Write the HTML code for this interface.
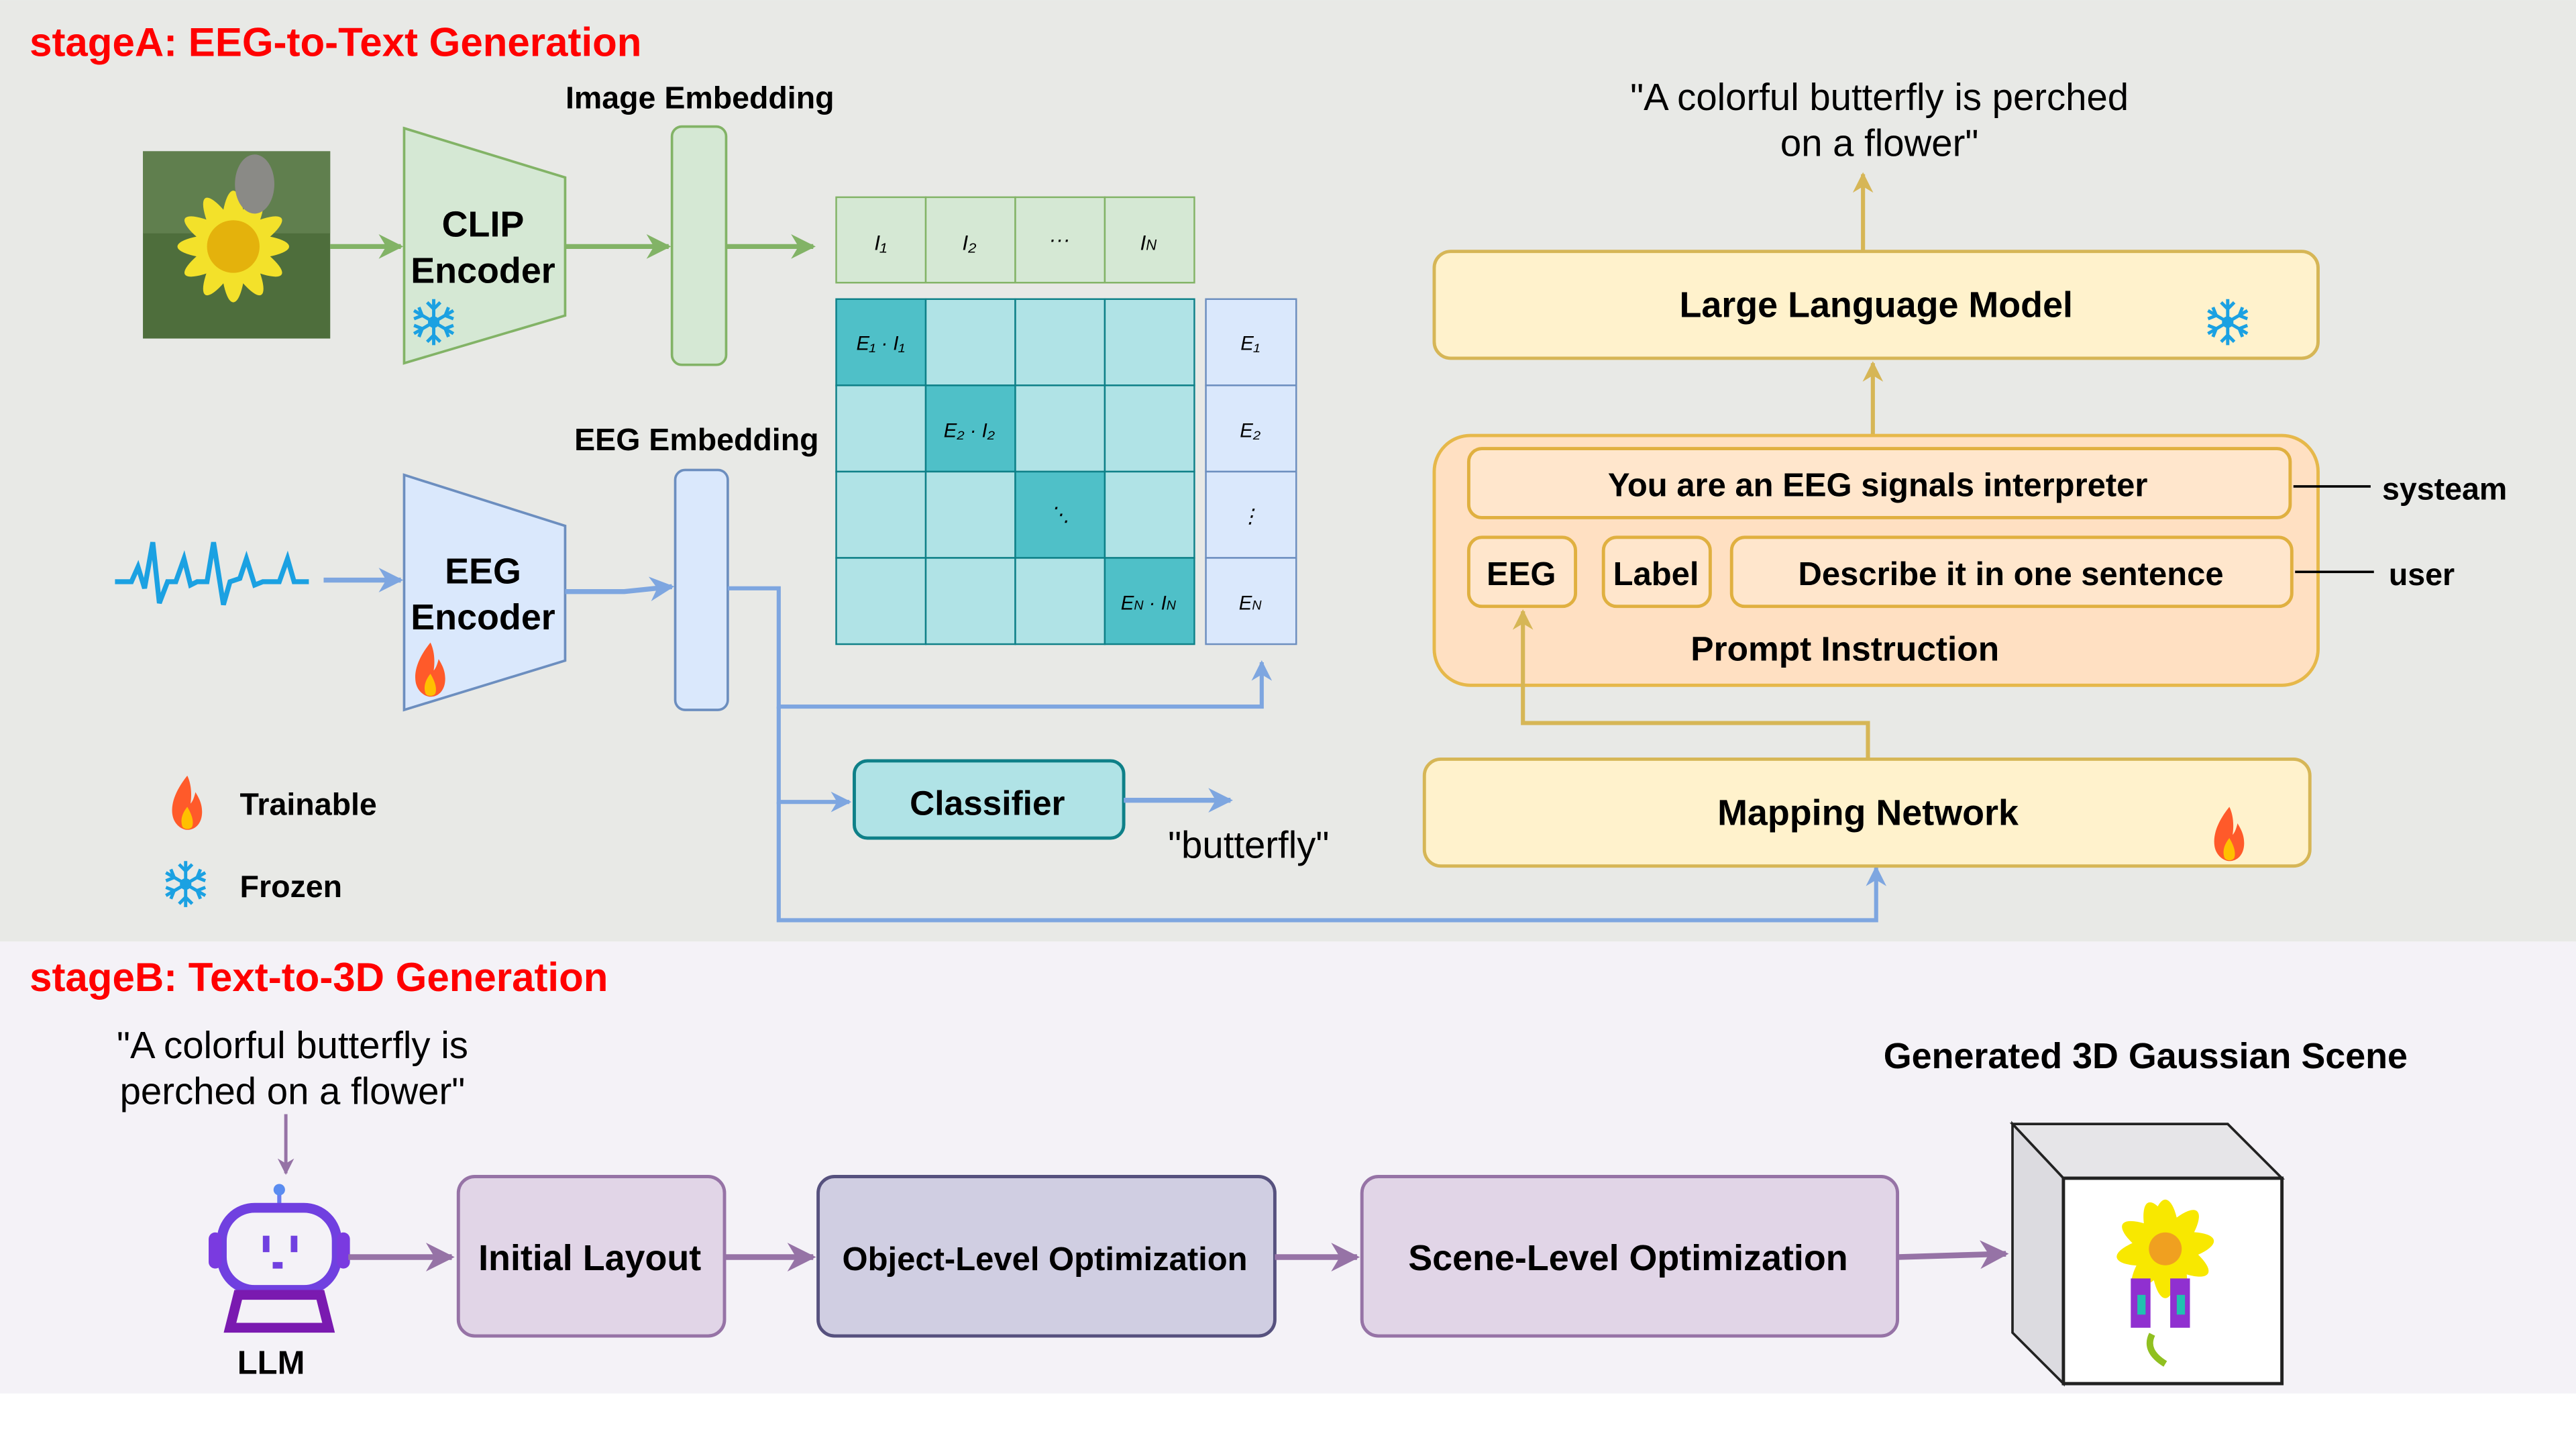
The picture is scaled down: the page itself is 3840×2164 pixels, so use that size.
<!DOCTYPE html>
<html><head><meta charset="utf-8"><style>
html,body{margin:0;padding:0;background:#fff;}
svg{display:block;}
text{font-family:"Liberation Sans",sans-serif;}
.b{font-weight:bold;}
</style></head><body>
<svg width="3840" height="2164" viewBox="0 0 1568 883.6" xmlns="http://www.w3.org/2000/svg">
<defs>
<marker id="ag" viewBox="0 0 10 10" refX="9" refY="5" markerWidth="5" markerHeight="5" orient="auto"><path d="M0,0 L10,5 L0,10 L3,5 z" fill="#82b366"/></marker>
<marker id="ab" viewBox="0 0 10 10" refX="9" refY="5" markerWidth="5" markerHeight="5" orient="auto"><path d="M0,0 L10,5 L0,10 L3,5 z" fill="#7ea6e0"/></marker>
<marker id="ay" viewBox="0 0 10 10" refX="9" refY="5" markerWidth="5" markerHeight="5" orient="auto"><path d="M0,0 L10,5 L0,10 L3,5 z" fill="#d6b656"/></marker>
<marker id="ap" viewBox="0 0 10 10" refX="9" refY="5" markerWidth="5" markerHeight="5" orient="auto"><path d="M0,0 L10,5 L0,10 L3,5 z" fill="#9673a6"/></marker>
<g id="flame"><path d="M0,-16 C-8,-6 -10,2 -9,8 C-8,14 -3,17 0,17 C5,17 9,13 9,6 C9,0 6,-4 5,-6 C4,-2 3,0 2,1 C3,-6 2,-12 0,-16 z" fill="#ff5a2a"/><path d="M0,3 C-4,8 -4,12 -3,15 C-2,17 2,17 3,15 C4,12 3,8 0,3 z" fill="#ffc000"/></g>
<g id="snow" stroke="#1ba1e2" stroke-width="2" fill="none"><path d="M0,-14 V14 M-12,-7 L12,7 M-12,7 L12,-7"/><path d="M-4,-12 L0,-8 L4,-12 M-4,12 L0,8 L4,12 M-12,-2 L-7,-4 L-9,-9 M12,2 L7,4 L9,9 M-12,2 L-7,4 L-9,9 M12,-2 L7,-4 L9,-9"/><circle r="2.5"/></g>
</defs>
<rect x="0" y="0" width="1568" height="573" fill="#e8e9e6"/>
<rect x="0" y="573" width="1568" height="275" fill="#f4f2f7"/>
<text x="18" y="34" class="b" font-size="24.5" fill="#ff0000">stageA: EEG-to-Text Generation</text>

<rect x="87" y="92" width="114" height="114" fill="#4e6e3c"/>
<rect x="87" y="92" width="114" height="50" fill="#6d8a5a" opacity="0.6"/>
<g transform="translate(142,150)" fill="#f3e12a">
<ellipse rx="8" ry="34" transform="rotate(0)"/><ellipse rx="8" ry="34" transform="rotate(30)"/><ellipse rx="8" ry="34" transform="rotate(60)"/><ellipse rx="8" ry="34" transform="rotate(90)"/><ellipse rx="8" ry="34" transform="rotate(120)"/><ellipse rx="8" ry="34" transform="rotate(150)"/>
<circle r="16" fill="#e4b20c"/></g>
<ellipse cx="155" cy="112" rx="12" ry="18" fill="#8a8a86"/>
<line x1="201" y1="150" x2="244" y2="150" stroke="#82b366" stroke-width="3" marker-end="url(#ag)"/>
<polygon points="246,78 344,108 344,192 246,221" fill="#d5e8d4" stroke="#82b366" stroke-width="1.5"/>
<text x="294" y="144" class="b" font-size="22" text-anchor="middle">CLIP</text>
<text x="294" y="172" class="b" font-size="22" text-anchor="middle">Encoder</text>
<use href="#snow" x="264" y="196"/>
<line x1="344" y1="150" x2="407" y2="150" stroke="#82b366" stroke-width="3" marker-end="url(#ag)"/>
<rect x="409" y="77" width="33" height="145" rx="6" fill="#d5e8d4" stroke="#82b366" stroke-width="1.5"/>
<text x="426" y="66" class="b" font-size="19" text-anchor="middle">Image Embedding</text>
<line x1="442" y1="150" x2="495" y2="150" stroke="#82b366" stroke-width="3" marker-end="url(#ag)"/>
<g fill="#d5e8d4" stroke="#82b366" stroke-width="1">
<rect x="509" y="120" width="54.5" height="52"/><rect x="563.5" y="120" width="54.5" height="52"/><rect x="618" y="120" width="54.5" height="52"/><rect x="672.5" y="120" width="54.5" height="52"/></g>
<g font-family="Liberation Serif" font-style="italic" font-size="13" text-anchor="middle">
<text x="536" y="152">I₁</text><text x="590" y="152">I₂</text><text x="645" y="150">···</text><text x="699" y="152">I<tspan font-size="9">N</tspan></text></g>
<g stroke="#0e8088" stroke-width="1" fill="#b0e3e6">
<rect x="509" y="182" width="54.5" height="52.5" fill="#4fc0c8"/><rect x="563.5" y="182" width="54.5" height="52.5"/><rect x="618" y="182" width="54.5" height="52.5"/><rect x="672.5" y="182" width="54.5" height="52.5"/>
<rect x="509" y="234.5" width="54.5" height="52.5"/><rect x="563.5" y="234.5" width="54.5" height="52.5" fill="#4fc0c8"/><rect x="618" y="234.5" width="54.5" height="52.5"/><rect x="672.5" y="234.5" width="54.5" height="52.5"/>
<rect x="509" y="287" width="54.5" height="52.5"/><rect x="563.5" y="287" width="54.5" height="52.5"/><rect x="618" y="287" width="54.5" height="52.5" fill="#4fc0c8"/><rect x="672.5" y="287" width="54.5" height="52.5"/>
<rect x="509" y="339.5" width="54.5" height="52.5"/><rect x="563.5" y="339.5" width="54.5" height="52.5"/><rect x="618" y="339.5" width="54.5" height="52.5"/><rect x="672.5" y="339.5" width="54.5" height="52.5" fill="#4fc0c8"/></g>
<g font-family="Liberation Serif" font-style="italic" font-size="12" text-anchor="middle">
<text x="536" y="213">E₁ · I₁</text><text x="590" y="266">E₂ · I₂</text><text x="645" y="317">⋱</text><text x="699" y="371">E<tspan font-size="8">N</tspan> · I<tspan font-size="8">N</tspan></text></g>
<g fill="#dae8fc" stroke="#6c8ebf" stroke-width="1">
<rect x="734" y="182" width="55" height="52.5"/><rect x="734" y="234.5" width="55" height="52.5"/><rect x="734" y="287" width="55" height="52.5"/><rect x="734" y="339.5" width="55" height="52.5"/></g>
<g font-family="Liberation Serif" font-style="italic" font-size="12" text-anchor="middle">
<text x="761" y="213">E₁</text><text x="761" y="266">E₂</text><text x="761" y="318">⋮</text><text x="761" y="371">E<tspan font-size="8">N</tspan></text></g>
<polyline points="70,354 80,354 84,345 88,358 93,330 97,367 102,354 107,354 112,340 116,356 120,354 126,354 130,330 136,368 140,354 146,352 150,340 155,356 160,354 170,354 175,340 179,354 188,354" fill="none" stroke="#1ba1e2" stroke-width="3"/>
<line x1="197" y1="353" x2="244" y2="353" stroke="#7ea6e0" stroke-width="3" marker-end="url(#ab)"/>
<polygon points="246,289 344,320 344,402 246,432" fill="#dae8fc" stroke="#6c8ebf" stroke-width="1.5"/>
<text x="294" y="355" class="b" font-size="22" text-anchor="middle">EEG</text>
<text x="294" y="383" class="b" font-size="22" text-anchor="middle">Encoder</text>
<use href="#flame" x="262" y="407"/>
<path d="M344,360 L380,360 L409,357" fill="none" stroke="#7ea6e0" stroke-width="3" marker-end="url(#ab)"/>
<rect x="411" y="286" width="32" height="146" rx="6" fill="#dae8fc" stroke="#6c8ebf" stroke-width="1.5"/>
<text x="424" y="274" class="b" font-size="19" text-anchor="middle">EEG Embedding</text>
<path d="M443,358 L474,358 L474,430 L768,430 L768,403" fill="none" stroke="#7ea6e0" stroke-width="2.5" marker-end="url(#ab)"/>
<path d="M474,430 L474,488 L517,488" fill="none" stroke="#7ea6e0" stroke-width="2.5" marker-end="url(#ab)"/>
<path d="M474,488 L474,560 L1142,560 L1142,528" fill="none" stroke="#7ea6e0" stroke-width="2.5" marker-end="url(#ab)"/>
<rect x="520" y="463" width="164" height="47" rx="8" fill="#b0e3e6" stroke="#0e8088" stroke-width="2"/>
<text x="601" y="496" class="b" font-size="21" text-anchor="middle">Classifier</text>
<line x1="684" y1="487" x2="749" y2="487" stroke="#7ea6e0" stroke-width="3" marker-end="url(#ab)"/>
<text x="760" y="522" font-size="23" text-anchor="middle">"butterfly"</text>
<use href="#flame" x="114" y="488"/>
<text x="146" y="496" class="b" font-size="19">Trainable</text>
<use href="#snow" x="113" y="538"/>
<text x="146" y="546" class="b" font-size="19">Frozen</text>
<text x="1144" y="67" font-size="23" text-anchor="middle">"A colorful butterfly is perched</text>
<text x="1144" y="95" font-size="23" text-anchor="middle">on a flower"</text>
<line x1="1134" y1="153" x2="1134" y2="106" stroke="#d6b656" stroke-width="2.5" marker-end="url(#ay)"/>
<rect x="873" y="153" width="538" height="65" rx="10" fill="#fff2cc" stroke="#d6b656" stroke-width="2"/>
<text x="1142" y="193" class="b" font-size="22" text-anchor="middle">Large Language Model</text>
<use href="#snow" x="1356" y="196"/>
<line x1="1140" y1="265" x2="1140" y2="221" stroke="#d6b656" stroke-width="2.5" marker-end="url(#ay)"/>
<rect x="873" y="265" width="538" height="152" rx="22" fill="#ffe0c2" stroke="#e6b84a" stroke-width="2"/>
<rect x="894" y="273" width="500" height="42" rx="8" fill="#ffe6cc" stroke="#e0b040" stroke-width="2"/>
<text x="1143" y="302" class="b" font-size="20" text-anchor="middle">You are an EEG signals interpreter</text>
<rect x="894" y="327" width="65" height="42" rx="8" fill="#ffe6cc" stroke="#e0b040" stroke-width="2"/>
<text x="926" y="356" class="b" font-size="20" text-anchor="middle">EEG</text>
<rect x="976" y="327" width="65" height="42" rx="8" fill="#ffe6cc" stroke="#e0b040" stroke-width="2"/>
<text x="1008" y="356" class="b" font-size="20" text-anchor="middle">Label</text>
<rect x="1054" y="327" width="341" height="42" rx="8" fill="#ffe6cc" stroke="#e0b040" stroke-width="2"/>
<text x="1224" y="356" class="b" font-size="20" text-anchor="middle">Describe it in one sentence</text>
<text x="1123" y="402" class="b" font-size="21" text-anchor="middle">Prompt Instruction</text>
<line x1="1396" y1="296" x2="1443" y2="296" stroke="#000" stroke-width="1.5"/>
<text x="1450" y="304" class="b" font-size="19">systeam</text>
<line x1="1397" y1="348" x2="1445" y2="348" stroke="#000" stroke-width="1.5"/>
<text x="1454" y="356" class="b" font-size="19">user</text>
<rect x="867" y="462" width="539" height="65" rx="10" fill="#fff2cc" stroke="#d6b656" stroke-width="2"/>
<text x="1137" y="502" class="b" font-size="22" text-anchor="middle">Mapping Network</text>
<use href="#flame" x="1357" y="507"/>
<path d="M1137,462 L1137,440 L927,440 L927,372" fill="none" stroke="#d6b656" stroke-width="2.5" marker-end="url(#ay)"/>

<text x="18" y="603" class="b" font-size="24.5" fill="#ff0000">stageB: Text-to-3D Generation</text>
<text x="178" y="644" font-size="23" text-anchor="middle">"A colorful butterfly is</text>
<text x="178" y="672" font-size="23" text-anchor="middle">perched on a flower"</text>
<line x1="174" y1="678" x2="174" y2="714" stroke="#9673a6" stroke-width="2" marker-end="url(#ap)"/>
<g>
<line x1="170" y1="722" x2="170" y2="735" stroke="#6a7cf0" stroke-width="2.5"/><circle cx="170" cy="724" r="3.5" fill="#5a8cf0"/>
<rect x="135" y="735" width="70" height="50" rx="20" fill="none" stroke="#7040e0" stroke-width="6"/>
<rect x="127" y="750" width="8" height="22" rx="4" fill="#7a3ae0"/><rect x="205" y="750" width="8" height="22" rx="4" fill="#7a3ae0"/>
<rect x="160" y="752" width="4" height="10" fill="#7040e0"/><rect x="177" y="752" width="4" height="10" fill="#7040e0"/><rect x="166" y="768" width="6" height="4" fill="#7040e0"/>
<path d="M145,788 L195,788 L200,808 L140,808 z" fill="none" stroke="#7a1ab0" stroke-width="6"/>
</g>
<text x="165" y="836" class="b" font-size="20" text-anchor="middle">LLM</text>
<line x1="212" y1="765" x2="275" y2="765" stroke="#9673a6" stroke-width="3.5" marker-end="url(#ap)"/>
<rect x="279" y="716" width="162" height="97" rx="10" fill="#e1d5e7" stroke="#9673a6" stroke-width="2"/>
<text x="359" y="773" class="b" font-size="22" text-anchor="middle">Initial  Layout</text>
<line x1="441" y1="765" x2="495" y2="765" stroke="#9673a6" stroke-width="3.5" marker-end="url(#ap)"/>
<rect x="498" y="716" width="278" height="97" rx="10" fill="#d0cee2" stroke="#56517e" stroke-width="2"/>
<text x="636" y="773" class="b" font-size="20" text-anchor="middle">Object-Level Optimization</text>
<line x1="776" y1="765" x2="826" y2="765" stroke="#9673a6" stroke-width="3.5" marker-end="url(#ap)"/>
<rect x="829" y="716" width="326" height="97" rx="10" fill="#e1d5e7" stroke="#9673a6" stroke-width="2"/>
<text x="991" y="773" class="b" font-size="22" text-anchor="middle">Scene-Level Optimization</text>
<path d="M1155,765 L1221,763" stroke="#9673a6" stroke-width="3.5" marker-end="url(#ap)"/>
<text x="1306" y="650" class="b" font-size="22" text-anchor="middle">Generated 3D Gaussian Scene</text>
<polygon points="1225,684 1356,684 1389,717 1256,717" fill="#e6e5e8" stroke="#222" stroke-width="1.5"/>
<polygon points="1225,684 1256,717 1256,842 1225,811" fill="#dcdbe0" stroke="#222" stroke-width="1.5"/>
<rect x="1256" y="717" width="133" height="125" fill="#fff" stroke="#222" stroke-width="2"/>
<g transform="translate(1318,760)" fill="#f8e800">
<ellipse rx="9" ry="30"/><ellipse rx="9" ry="30" transform="rotate(40)"/><ellipse rx="9" ry="30" transform="rotate(80)"/><ellipse rx="9" ry="30" transform="rotate(120)"/><ellipse rx="9" ry="30" transform="rotate(160)"/>
<circle r="10" fill="#f0a020"/></g>
<path d="M1310,812 Q1305,822 1318,830" stroke="#90c020" stroke-width="4" fill="none"/>
<rect x="1297" y="778" width="12" height="30" fill="#9030d0"/><rect x="1321" y="778" width="12" height="30" fill="#9030d0"/>
<rect x="1301" y="788" width="5" height="12" fill="#20c0b0"/><rect x="1325" y="788" width="5" height="12" fill="#20c0b0"/>
</svg>
</body></html>
